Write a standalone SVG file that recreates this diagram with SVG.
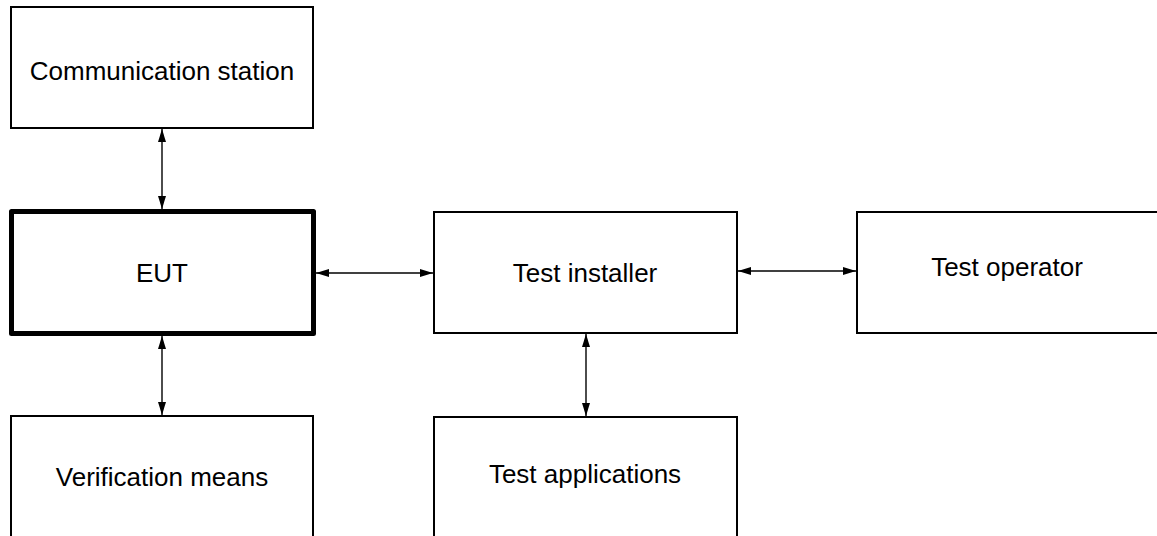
<svg xmlns="http://www.w3.org/2000/svg" width="1157" height="536" viewBox="0 0 1157 536">
  <style>
    .box { fill: #ffffff; stroke: #000000; stroke-width: 2; }
    .thick { fill: #ffffff; stroke: #000000; stroke-width: 5; stroke-linejoin: round; }
    .lbl { font-family: "Liberation Sans", Arial, sans-serif; font-size: 26px; fill: #000000; text-anchor: middle; }
    .conn { stroke: #000000; stroke-width: 1.4; fill: none; marker-start: url(#ah); marker-end: url(#ah); }
  </style>
  <defs>
    <marker id="ah" markerUnits="userSpaceOnUse" markerWidth="13" markerHeight="8" refX="13" refY="4" orient="auto-start-reverse">
      <path d="M0,0 L13,4 L0,8 Z" fill="#000000"/>
    </marker>
  </defs>
  <rect x="0" y="0" width="1157" height="536" fill="#ffffff"/>
  <g id="connectors">
    <line class="conn" x1="162" y1="129" x2="162" y2="209"/>
    <line class="conn" x1="162" y1="336" x2="162" y2="415"/>
    <line class="conn" x1="316" y1="273" x2="433" y2="273"/>
    <line class="conn" x1="738" y1="271" x2="856" y2="271"/>
    <line class="conn" x1="586" y1="334" x2="586" y2="416"/>
  </g>
  <g id="communication-station">
    <rect class="box" x="11" y="7" width="302" height="121"/>
    <text class="lbl" x="162" y="80">Communication station</text>
  </g>
  <g id="eut">
    <rect class="thick" x="11.5" y="211.5" width="302" height="122"/>
    <text class="lbl" x="162" y="282">EUT</text>
  </g>
  <g id="test-installer">
    <rect class="box" x="434" y="212" width="303" height="121"/>
    <text class="lbl" x="585" y="282">Test installer</text>
  </g>
  <g id="test-operator">
    <rect class="box" x="857" y="212" width="320" height="121"/>
    <text class="lbl" x="1007" y="276">Test operator</text>
  </g>
  <g id="verification-means">
    <rect class="box" x="11" y="416" width="302" height="140"/>
    <text class="lbl" x="162" y="486">Verification means</text>
  </g>
  <g id="test-applications">
    <rect class="box" x="434" y="417" width="303" height="140"/>
    <text class="lbl" x="585" y="483">Test applications</text>
  </g>
</svg>
